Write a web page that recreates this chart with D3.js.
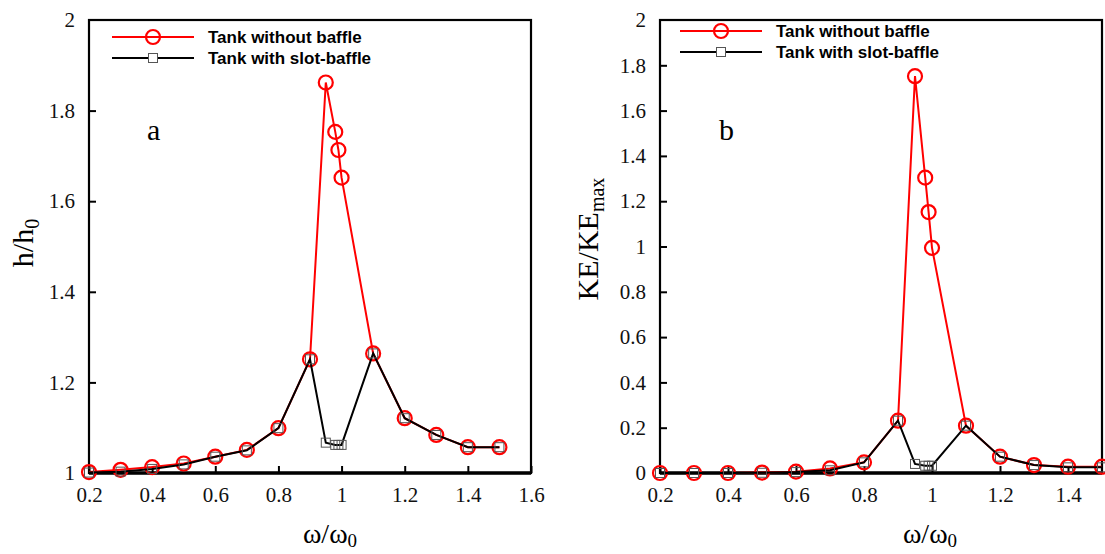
<!DOCTYPE html>
<html>
<head>
<meta charset="utf-8">
<script src="https://cdn.jsdelivr.net/npm/d3@7/dist/d3.min.js"></script>
<style>
	body { margin: 0; background: #fff; }
	.tick text { font-family: "Liberation Serif", "Times New Roman", serif; }
</style>
</head>
<body>
<div id="chart"></div>
<script>
// frequency ratio, shared by both panels
var freqRatio = [0.2, 0.3, 0.4, 0.5, 0.6, 0.7, 0.8, 0.9, 0.95, 0.98, 0.99, 1.0, 1.1, 1.2, 1.3, 1.4, 1.5];

// panel a : h/h0
var hNoBaffle = [1.002, 1.007, 1.013, 1.021, 1.036, 1.051, 1.099, 1.251, 1.862, 1.753, 1.713, 1.652, 1.264, 1.121, 1.084, 1.057, 1.057];
var hSlotBaffle = [1.001, 1.003, 1.009, 1.019, 1.036, 1.05, 1.099, 1.251, 1.067, 1.062, 1.062, 1.062, 1.264, 1.121, 1.084, 1.057, 1.057];

// panel b : KE/KEmax
var keNoBaffle = [0.0, 0.0, 0.0, 0.002, 0.006, 0.02, 0.047, 0.231, 1.752, 1.304, 1.152, 0.994, 0.209, 0.072, 0.035, 0.028, 0.028];
var keSlotBaffle = [0.0, 0.0, 0.0, 0.001, 0.004, 0.012, 0.047, 0.231, 0.04, 0.032, 0.032, 0.032, 0.209, 0.072, 0.035, 0.025, 0.025];

var xTicksA = [0.2, 0.4, 0.6, 0.8, 1, 1.2, 1.4, 1.6];
var yTicksA = [1, 1.2, 1.4, 1.6, 1.8, 2];
var xTicksB = [0.2, 0.4, 0.6, 0.8, 1, 1.2, 1.4];
var yTicksB = [0, 0.2, 0.4, 0.6, 0.8, 1, 1.2, 1.4, 1.6, 1.8, 2];

var legendNames = ["Tank without baffle", "Tank with slot-baffle"];

var svg = d3.select("#chart").append("svg")
	.attr("width", 1105)
	.attr("height", 554);

function drawPanel(p) {
	var x = d3.scaleLinear().domain(p.xDomain).range([p.left, p.right]);
	var y = d3.scaleLinear().domain(p.yDomain).range([p.bottom, p.top]);
	var g = svg.append("g");

	// axes with inward ticks
	var xAxis = g.append("g")
		.attr("transform", "translate(0," + p.bottom + ")")
		.call(d3.axisBottom(x).tickValues(p.xTicks).tickSize(-7).tickPadding(14).tickFormat(d3.format("")));
	xAxis.selectAll("text").attr("font-size", 21).attr("fill", "#111");
	xAxis.selectAll("line").attr("stroke-width", 2);
	xAxis.select(".domain").remove();

	var yAxis = g.append("g")
		.attr("transform", "translate(" + p.left + ",0)")
		.call(d3.axisLeft(y).tickValues(p.yTicks).tickSize(-7).tickPadding(14).tickFormat(d3.format("")));
	yAxis.selectAll("text").attr("font-size", 21).attr("fill", "#111");
	yAxis.selectAll("line").attr("stroke-width", 2);
	yAxis.select(".domain").remove();
	yAxis.selectAll(".tick").filter(function(d) { return d == p.yDomain[0] || d == p.yDomain[1]; }).select("line").remove();

	// frame
	g.append("rect")
		.attr("x", p.left).attr("y", p.top)
		.attr("width", p.right - p.left).attr("height", p.bottom - p.top)
		.attr("fill", "none").attr("stroke", "#000").attr("stroke-width", 2.2);
	g.append("line")
		.attr("x1", p.left).attr("x2", p.right)
		.attr("y1", p.bottom).attr("y2", p.bottom)
		.attr("stroke", "#000").attr("stroke-width", 3.5);

	var line = d3.line().x(function(d) { return x(d[0]); }).y(function(d) { return y(d[1]); });
	var red = d3.zip(freqRatio, p.red);
	var black = d3.zip(freqRatio, p.black);

	g.append("path").datum(red).attr("d", line)
		.attr("fill", "none").attr("stroke", "#f00").attr("stroke-width", 2);
	g.selectAll("circle.red").data(red).enter().append("circle")
		.attr("class", "red")
		.attr("cx", function(d) { return x(d[0]); })
		.attr("cy", function(d) { return y(d[1]); })
		.attr("r", 7)
		.attr("fill", "none").attr("stroke", "#f00").attr("stroke-width", 2.2);
	g.append("path").datum(black).attr("d", line)
		.attr("fill", "none").attr("stroke", "#000").attr("stroke-width", 2);
	g.selectAll("rect.sq").data(black).enter().append("rect")
		.attr("class", "sq")
		.attr("x", function(d) { return x(d[0]) - 4.5; })
		.attr("y", function(d) { return y(d[1]) - 4.5; })
		.attr("width", 9).attr("height", 9)
		.attr("fill", "none").attr("stroke", "#555").attr("stroke-width", 1);

	// legend
	var lg = g.append("g");
	legendNames.forEach(function(name, i) {
		var ly = p.legendY + i * 21;
		lg.append("line")
			.attr("x1", p.legendX).attr("x2", p.legendX + 82)
			.attr("y1", ly).attr("y2", ly)
			.attr("stroke", i == 0 ? "#f00" : "#000").attr("stroke-width", 2.2);
		if (i == 0) {
			lg.append("circle").attr("cx", p.legendX + 41).attr("cy", ly).attr("r", 7)
				.attr("fill", "none").attr("stroke", "#f00").attr("stroke-width", 2.2);
		} else {
			lg.append("rect").attr("x", p.legendX + 36.5).attr("y", ly - 4.5)
				.attr("width", 9).attr("height", 9)
				.attr("fill", "#fff").attr("stroke", "#555").attr("stroke-width", 1);
		}
		lg.append("text")
			.attr("x", p.legendX + 96).attr("y", ly + 6)
			.attr("font-family", "Liberation Sans, Arial, sans-serif")
			.attr("font-weight", "bold").attr("font-size", 17)
			.text(name);
	});

	// panel letter
	g.append("text")
		.attr("x", p.letterX).attr("y", 140)
		.attr("font-family", "Liberation Serif, serif").attr("font-size", 30)
		.text(p.letter);

	// x title
	var xt = g.append("text")
		.attr("x", (p.left + p.right) / 2 + p.xTitleShift).attr("y", 543)
		.attr("text-anchor", "middle")
		.attr("font-family", "Liberation Serif, serif").attr("font-size", 28);
	xt.append("tspan").text("\u03c9/\u03c9");
	xt.append("tspan").attr("font-size", 19).attr("dy", 4).text("0");

	// y title
	var yt = g.append("text")
		.attr("transform", "translate(" + p.yTitleX + "," + p.yTitleY + ") rotate(-90)")
		.attr("text-anchor", "middle")
		.attr("font-family", "Liberation Serif, serif").attr("font-size", 30);
	yt.append("tspan").text(p.yTitleMain);
	yt.append("tspan").attr("font-size", 20).attr("dy", 6).text(p.yTitleSub);
}

drawPanel({
	left: 89, right: 531, top: 20, bottom: 473,
	xDomain: [0.2, 1.6], yDomain: [1, 2],
	xTicks: xTicksA, yTicks: yTicksA,
	red: hNoBaffle, black: hSlotBaffle,
	legendX: 112, legendY: 37,
	letter: "a", letterX: 147,
	xTitleShift: 20,
	yTitleX: 33, yTitleY: 243, yTitleMain: "h/h", yTitleSub: "0"
});

drawPanel({
	left: 660, right: 1102, top: 20, bottom: 473,
	xDomain: [0.2, 1.5], yDomain: [0, 2],
	xTicks: xTicksB, yTicks: yTicksB,
	red: keNoBaffle, black: keSlotBaffle,
	legendX: 680, legendY: 31,
	letter: "b", letterX: 719,
	xTitleShift: 49,
	yTitleX: 598, yTitleY: 239, yTitleMain: "KE/KE", yTitleSub: "max"
});
</script>
</body>
</html>
